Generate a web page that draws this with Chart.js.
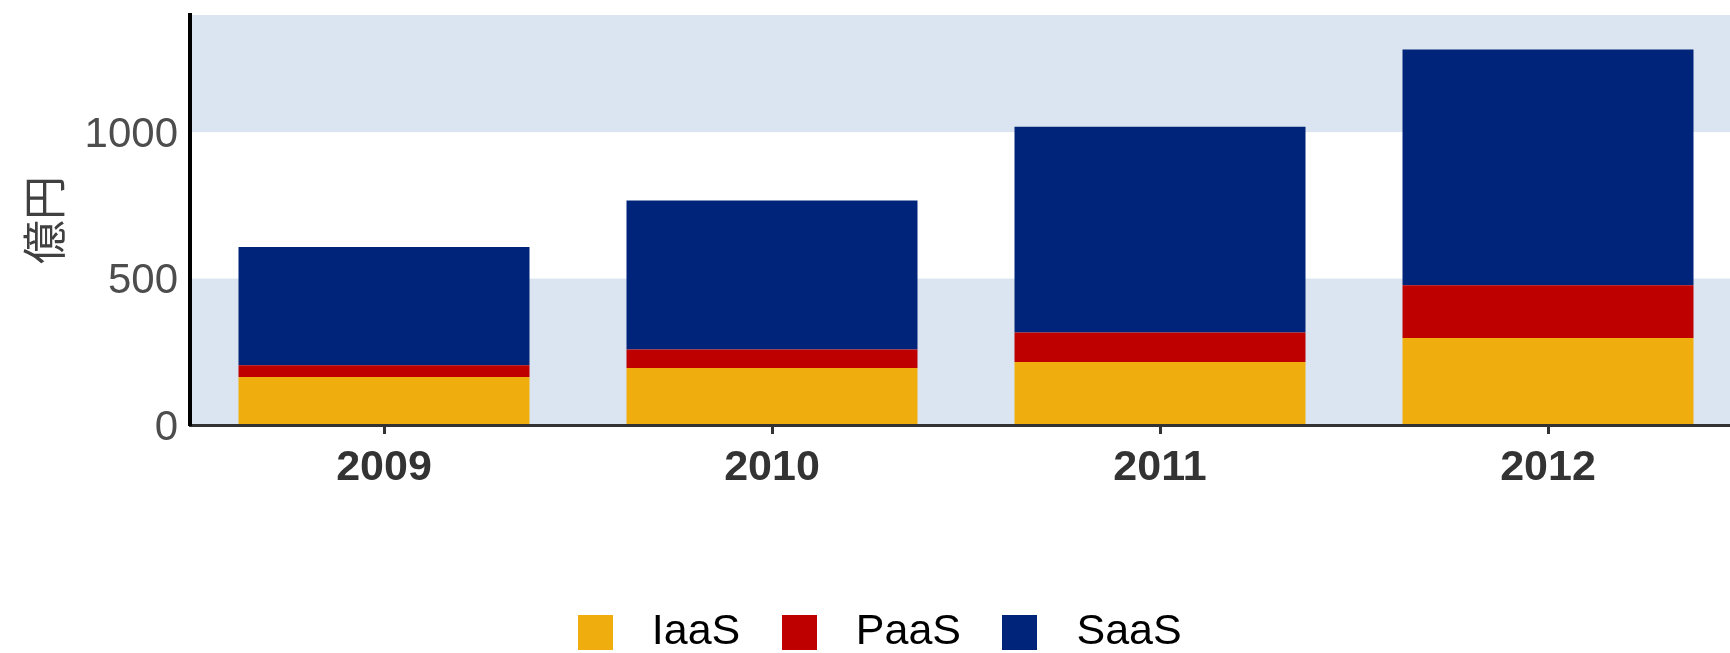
<!DOCTYPE html>
<html>
<head>
<meta charset="utf-8">
<script src="https://cdn.jsdelivr.net/npm/chart.js@4/dist/chart.umd.min.js"></script>
<style>
html,body{margin:0;padding:0;background:#fff;overflow:hidden;width:1730px;height:653px}
#wrap{position:absolute;left:0;top:0;width:1742px;height:664px}
</style>
</head>
<body>
<div id="wrap"><canvas id="c" width="1742" height="664"></canvas></div>
<script>
// ---- data ----
const categories = ['2009', '2010', '2011', '2012'];
const seriesNames = ['IaaS', 'PaaS', 'SaaS'];
const iaas = [164, 195, 215, 297];
const paas = [40, 63, 101, 180];
const saas = [404, 509, 702, 805];
const yTicks = [0, 500, 1000];
const yMax = 1400;
const yTitle = '億円';
const bandEdges = [0, 500, 1000, 1400];

// ---- styles ----
const colors = ['#f0ad0e', '#bf0000', '#00247a'];
const bandColor = '#dbe5f1';
const latin = '"Liberation Sans", Arial, Helvetica, sans-serif';
const cjk = '"Noto Sans CJK JP", "Noto Sans CJK SC", sans-serif';

function makeSwatch(color) {
  const c = document.createElement('canvas');
  c.width = 35; c.height = 35;
  const g = c.getContext('2d');
  g.fillStyle = color;
  g.fillRect(0, 0, 35, 35);
  return c;
}

const bandsPlugin = {
  id: 'bands',
  beforeDraw(chart) {
    const {ctx, chartArea: a, scales: {y}} = chart;
    ctx.save();
    for (let i = 0; i < bandEdges.length - 1; i++) {
      if (i % 2 === 1) continue;
      const yTop = y.getPixelForValue(bandEdges[i + 1]);
      const yBot = y.getPixelForValue(bandEdges[i]);
      ctx.fillStyle = bandColor;
      ctx.fillRect(a.left, yTop, a.right - a.left, yBot - yTop);
    }
    ctx.restore();
  }
};

const seriesData = [iaas, paas, saas];
const datasets = seriesNames.map((name, i) => ({
  label: name,
  data: seriesData[i],
  backgroundColor: colors[i],
  borderWidth: 0,
  barPercentage: 0.75,
  categoryPercentage: 1.0
}));

new Chart(document.getElementById('c'), {
  type: 'bar',
  data: { labels: categories, datasets },
  plugins: [bandsPlugin],
  options: {
    responsive: false,
    animation: false,
    devicePixelRatio: 1,
    layout: { padding: { top: 15, left: 0, right: 0, bottom: 0 } },
    plugins: {
      tooltip: { enabled: false },
      legend: {
        position: 'bottom',
        labels: {
          usePointStyle: true,
          pointStyleWidth: 70,
          boxHeight: 35,
          padding: 24,
          color: '#000',
          font: { family: latin, size: 43 },
          generateLabels: (chart) => chart.data.datasets.map((ds, i) => ({
            text: ds.label,
            fillStyle: ds.backgroundColor,
            strokeStyle: ds.backgroundColor,
            lineWidth: 0,
            pointStyle: makeSwatch(ds.backgroundColor),
            hidden: false,
            datasetIndex: i,
            fontColor: '#000'
          }))
        }
      }
    },
    scales: {
      x: {
        stacked: true,
        grid: { display: true, drawOnChartArea: false, drawTicks: true, tickLength: 9, tickWidth: 3, tickColor: '#333', color: '#333', offset: false, z: 1 },
        border: { display: true, color: '#333', width: 3, z: 1 },
        ticks: { padding: 8, color: '#333', maxRotation: 0, autoSkip: false, font: { family: latin, size: 43, weight: 'bold' } },
        afterFit(s) { s.height = 162; s.paddingLeft = 0; s.paddingRight = 0; }
      },
      y: {
        stacked: true,
        min: 0,
        max: yMax,
        grid: { display: false, drawTicks: false },
        border: { display: true, color: '#000', width: 4, z: 1 },
        ticks: { padding: 12, labelOffset: 3, color: '#4d4d4d', font: { family: latin, size: 42 }, callback: (v) => String(v) },
        afterBuildTicks(s) { s.ticks = yTicks.map(v => ({ value: v })); },
        afterFit(s) { s.width = 190; s.paddingTop = 0; s.paddingBottom = 0; },
        title: { display: true, text: yTitle, color: '#404040', font: { family: cjk, size: 44 }, padding: { top: 18, bottom: 0 } }
      }
    }
  }
});
</script>
</body>
</html>
